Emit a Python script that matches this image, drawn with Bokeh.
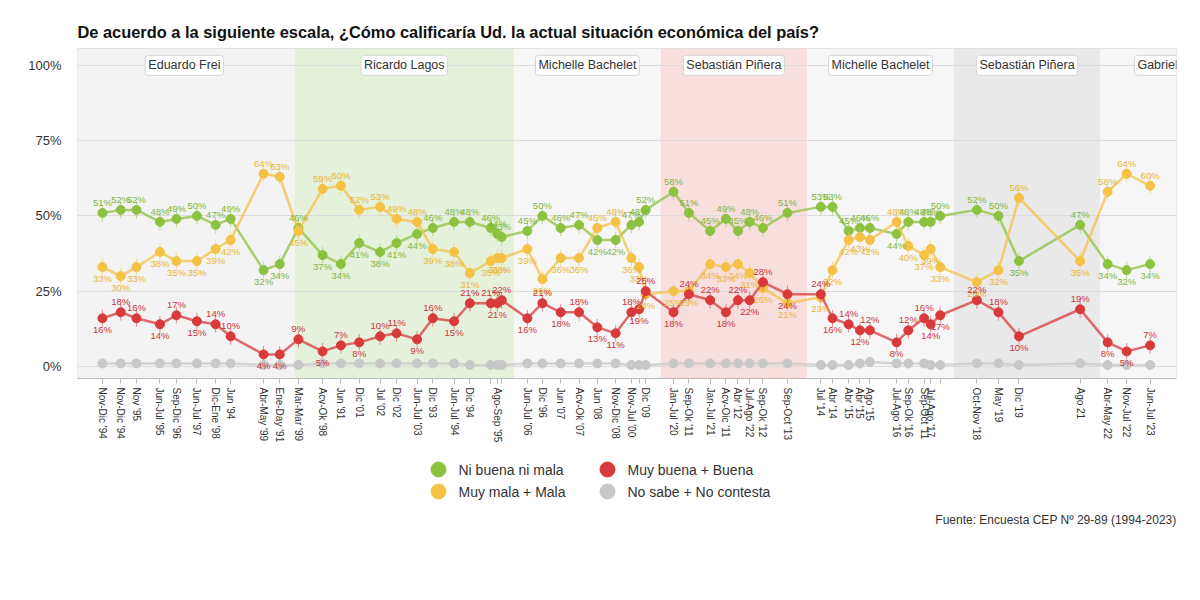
import math
from bokeh.plotting import figure
from bokeh.layouts import column
from bokeh.models import (Range1d, FixedTicker, CustomJSTickFormatter, Label)
from bokeh.core.properties import value
from bokeh.embed import file_html
from bokeh.resources import INLINE

FONT = "Liberation Sans"

# survey position (decimal year)
survey_x = [1994.95, 1995.45, 1995.88, 1996.52, 1996.97, 1997.53, 1998.04, 1998.45,
            1999.35, 1999.79, 2000.30, 2000.96, 2001.46, 2001.96, 2002.53, 2002.98,
            2003.54, 2003.97, 2004.55, 2004.98, 2005.55, 2005.73, 2005.85, 2006.55,
            2006.96, 2007.46, 2007.96, 2008.46, 2008.96, 2009.39, 2009.60, 2009.78,
            2010.54, 2010.96, 2011.54, 2011.97, 2012.30, 2012.62, 2012.98, 2013.65,
            2014.56, 2014.88, 2015.32, 2015.63, 2015.90, 2016.63, 2016.95, 2017.38,
            2017.56, 2017.82, 2018.82, 2019.41, 2019.97, 2021.64, 2022.39, 2022.91,
            2023.55]

tick_labels = ["Nov-Dic '94", "Nov-Dic '94", "Nov '95", "Jun-Jul '95", "Sep-Dic '96",
               "Jun-Jul '97", "Dic-Ene '98", "Jun '94", "Abr-May '99", "Ene-Day '91",
               "Mar-Mar '99", "Acv-Ok '98", "Jun '91", "Dic '01", "Jul '02", "Dic '02",
               "Jun-Jul '03", "Dic '93", "Jun-Jul '94", "Dic '94", "", "Ago-Sep '95", "",
               "Jun-Jul '06", "Dic '96", "Jun '07", "Acv-Ok '07", "Jun '08", "Nov-Dic '08",
               "Nov-Jul '00", "", "Dic '09", "Jan-Jul '20", "Sep-Ok '11", "Jan-Jul '21",
               "Acv-Oic '11", "Abr '12", "Jul-Ago '22", "Sep-Ok '12", "Sep-Oct '13",
               "Jul '14", "Abr '14", "Abr '15", "Abr '15", "Ago '15", "Jul-Ago '16",
               "Sep-Ok '16", "Sep-Oct '11", "Jul-Ago '17", "", "Oct-Nov '18", "May '19",
               "Dic '19", "Ago 21", "Abr-May 22", "Nov-Jul '22", "Jun-Jul '23"]

ni_buena_ni_mala = [51, 52, 52, 48, 49, 50, 47, 49, 32, 34, 46, 37, 34, 41, 38, 41,
                    44, 46, 48, 48, 46, 44, 43, 45, 50, 46, 47, 42, 42, 47, 48, 52,
                    58, 51, 45, 49, 45, 48, 46, 51, 53, 53, 45, 46, 46, 44, 48, 48,
                    48, 50, 52, 50, 35, 47, 34, 32, 34]
muy_mala_mala = [33, 30, 33, 38, 35, 35, 39, 42, 64, 63, 45, 59, 60, 52, 53, 49,
                 48, 39, 38, 31, 35, 36, 36, 39, 29, 36, 36, 46, 48, 36, 33, 24,
                 25, 25, 34, 33, 34, 31, 26, 21, 23, 32, 42, 43, 42, 48, 40, 37,
                 39, 33, 28, 32, 56, 35, 58, 64, 60]
muy_buena_buena = [16, 18, 16, 14, 17, 15, 14, 10, 4, 4, 9, 5, 7, 8, 10, 11,
                   9, 16, 15, 21, 21, 21, 22, 16, 21, 18, 18, 13, 11, 18, 19, 25,
                   18, 24, 22, 18, 22, 22, 28, 24, 24, 16, 14, 12, 12, 8, 12, 16,
                   14, 17, 22, 18, 10, 19, 8, 5, 7]
no_sabe = [1, 1, 1, 1, 1, 1, 1, 1, 0.5, 0.5, 0.5, 1, 1, 1, 1, 1,
           1, 1, 1, 0.5, 0.5, 0.5, 0.5, 1, 1, 1, 1, 1, 1, 0.5, 0.5, 0.5,
           1, 1, 1, 1, 1, 1, 1, 1, 0.5, 0.5, 0.5, 1, 1.5, 1, 1, 1,
           0.5, 0.5, 1, 1, 0.5, 1, 0.5, 0.5, 0.5]
margin = 2.8

presidents = ["Eduardo Frei", "Ricardo Lagos", "Michelle Bachelet", "Sebastián Piñera",
              "Michelle Bachelet", "Sebastián Piñera", "Gabriel Boric"]
term_start = [1994.19, 2000.19, 2006.19, 2010.19, 2014.19, 2018.19, 2022.19]
term_end = [2000.19, 2006.19, 2010.19, 2014.19, 2018.19, 2022.19, 2026.19]
band_colors = ["#f3f3f3", "#e6f1dc", "#f6f6f6", "#f9dede", "#f6f6f6", "#e9e9e9", "#f6f6f6"]

source_text = "Fuente: Encuesta CEP Nº 29-89 (1994-2023)"

Y0, Y1 = -4, 105.6
W = 1188
LEFT, RIGHT = 77, 12

p = figure(width=W, height=448, x_range=Range1d(1994.27, 2024.27),
           y_range=Range1d(Y0, Y1), output_backend="svg", toolbar_location=None,
           min_border_left=LEFT, min_border_right=RIGHT, min_border_top=48,
           min_border_bottom=70)
p.background_fill_color = "white"
p.outline_line_color = "#dddddd"

p.title.text = "De acuerdo a la siguiente escala, ¿Cómo calificaría Ud. la actual situación económica del país?"
p.title.text_font = FONT
p.title.text_font_size = "16.4px"
p.title.text_font_style = "bold"
p.title.text_color = "#111111"
p.title.align = "left"
p.title.standoff = 16

# presidential bands
p.quad(left=term_start, right=term_end, bottom=Y0, top=Y1, fill_color=band_colors,
       line_color=None, level="image")
mid = [(a + b) / 2 for a, b in zip(term_start, term_end)]
p.text(x=mid, y=[100] * len(mid), text=presidents, text_align="center",
       text_baseline="middle", text_font=value(FONT), text_font_size="12.5px",
       text_color="#333333", background_fill_color="white",
       border_line_color="#d5d5d5", padding=3, border_radius=3)

# axes
p.yaxis.ticker = FixedTicker(ticks=[0, 25, 50, 75, 100])
p.yaxis.formatter = CustomJSTickFormatter(code="return tick + '%';")
p.yaxis.axis_line_color = None
p.yaxis.major_tick_line_color = None
p.yaxis.minor_tick_line_color = None
p.yaxis.major_label_text_font = FONT
p.yaxis.major_label_text_font_size = "13px"
p.yaxis.major_label_text_color = "#333333"
p.yaxis.major_label_standoff = 10

p.xaxis.ticker = FixedTicker(ticks=survey_x)
p.xaxis.formatter = CustomJSTickFormatter(args=dict(xs=survey_x, labels=tick_labels), code="""
let best = 0, d = 1e9;
for (let i = 0; i < xs.length; i++) { const dd = Math.abs(xs[i] - tick); if (dd < d) { d = dd; best = i; } }
return d < 0.01 ? labels[best] : '';
""")
p.xaxis.major_label_orientation = -math.pi / 2
p.xaxis.major_label_text_font = FONT
p.xaxis.major_label_text_font_size = "10px"
p.xaxis.major_label_text_color = "#333333"
p.xaxis.axis_line_color = "#bbbbbb"
p.xaxis.major_tick_line_color = "#bbbbbb"
p.xaxis.major_tick_out = 5
p.xaxis.major_tick_in = 0
p.xaxis.minor_tick_line_color = None
p.xaxis.major_label_standoff = 4

p.xgrid.visible = False
p.ygrid.grid_line_color = "#dcdcdc"

series = [
    ("Ni buena ni mala", ni_buena_ni_mala, "#8dc240", "#7fb63a", True),
    ("Muy mala + Mala", muy_mala_mala, "#f4c245", "#e9b634", True),
    ("Muy buena + Buena", muy_buena_buena, "#d8393b", "#c9353a", True),
    ("No sabe + No contesta", no_sabe, "#c8c8c8", "#aaaaaa", False),
]

for name, vals, col, tcol, labelled in series:
    p.line(survey_x, vals, line_color=col, line_width=2.5, line_alpha=0.75)
    if labelled:
        p.segment(x0=survey_x, y0=[v - margin for v in vals], x1=survey_x,
                  y1=[v + margin for v in vals], line_color=col, line_width=1,
                  line_alpha=0.55)
    p.scatter(survey_x, vals, size=9, fill_color=col, line_color=col)

# data labels
n = len(survey_x)
g, yv, r = ni_buena_ni_mala, muy_mala_mala, muy_buena_buena
def add_labels(vals, above, col):
    xa = [survey_x[i] for i in range(n) if above[i]]
    ya = [vals[i] for i in range(n) if above[i]]
    xb = [survey_x[i] for i in range(n) if not above[i]]
    yb = [vals[i] for i in range(n) if not above[i]]
    common = dict(text_font=value(FONT), text_font_size="9.5px", text_color=col,
                  text_align="center")
    p.text(x=xa, y=ya, text=[f"{round(v)}%" for v in ya], text_baseline="bottom",
           y_offset=-5, **common)
    p.text(x=xb, y=yb, text=[f"{round(v)}%" for v in yb], text_baseline="top",
           y_offset=6, **common)

add_labels(g, [g[i] >= yv[i] for i in range(n)], "#7fb63a")
add_labels(yv, [yv[i] > g[i] for i in range(n)], "#e9b634")
red_above = []
for i in range(n):
    a = r[i - 1] if i > 0 else r[i]
    b = r[i + 1] if i < n - 1 else r[i]
    red_above.append(r[i] >= (a + b) / 2)
add_labels(r, red_above, "#c9353a")

# legend + source strip: a pixel-based canvas below the chart (frame aligned with p)
H2 = 92
p2 = figure(width=W, height=H2, x_range=Range1d(LEFT, W - RIGHT), y_range=Range1d(0, H2),
            output_backend="svg", toolbar_location=None, min_border=0,
            min_border_left=LEFT, min_border_right=RIGHT,
            x_axis_location=None, y_axis_location=None)
p2.grid.visible = False
p2.outline_line_color = None
p2.background_fill_color = "white"

legend_col_x = [438, 438, 607, 607]
legend_row_y = [H2 - 21, H2 - 43, H2 - 21, H2 - 43]
legend_names = [s[0] for s in series]
legend_cols = [s[2] for s in series]
p2.scatter(x=legend_col_x, y=legend_row_y, size=15, fill_color=legend_cols,
           line_color=legend_cols)
p2.text(x=[v + 20 for v in legend_col_x], y=legend_row_y, text=legend_names,
        text_baseline="middle", text_align="left", text_font=value(FONT),
        text_font_size="14px", text_color="#333333")

p2.add_layout(Label(x=1176, y=21, text=source_text, text_align="right",
                    text_baseline="middle", text_font=FONT, text_font_size="12px",
                    text_color="#333333"))

open("out.html", "w").write(file_html(column(p, p2, spacing=0), INLINE))
